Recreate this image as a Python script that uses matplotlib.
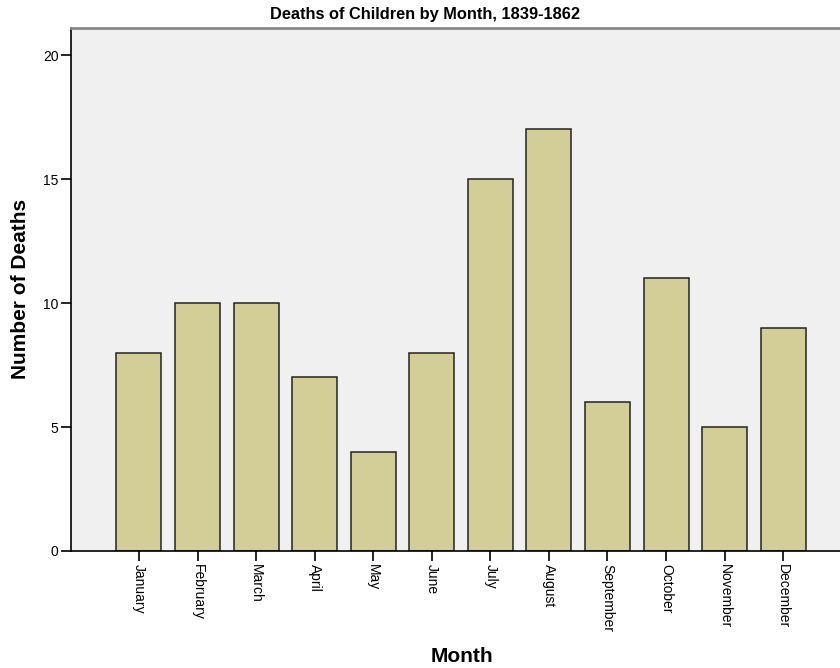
import matplotlib.pyplot as plt
import numpy as np

months = ["January", "February", "March", "April", "May", "June", "July",
          "August", "September", "October", "November", "December"]
deaths = [8, 10, 10, 7, 4, 8, 15, 17, 6, 11, 5, 9]

plt.rcParams['font.family'] = ['Liberation Sans', 'DejaVu Sans']

fig = plt.figure(figsize=(8.4, 6.68), dpi=100)
ax = fig.add_axes([71/840, 117/668, 1 - 71/840, (551-28)/668])
ax.set_facecolor("#f0f0f0")

x = np.arange(len(months))
ax.bar(x, deaths, width=0.77, color="#d3ce97", edgecolor="#222222", linewidth=1.1, zorder=2)

ax.set_xlim(-1.16, 11.97)
ax.set_ylim(0, 21.09)
ax.set_yticks([0, 5, 10, 15, 20])
ax.set_xticks(x)
ax.set_xticklabels(months, rotation=270, fontsize=10)
ax.tick_params(axis='y', labelsize=10, length=7, width=1.2, pad=2)
ax.tick_params(axis='x', length=7, width=1.2, pad=2)

ax.spines['right'].set_visible(False)
ax.spines['top'].set_color("#888888")
ax.spines['top'].set_linewidth(2)
ax.spines['left'].set_linewidth(1.2)
ax.spines['bottom'].set_linewidth(1.2)

fig.text(21/840, 1 - 289/668, "Number of Deaths", fontsize=15, fontweight='bold',
         rotation=90, ha='center', va='center')
fig.text(462/840, 1 - 657/668, "Month", fontsize=15, fontweight='bold', ha='center', va='center')
fig.text(425/840, 1 - 14/668, "Deaths of Children by Month, 1839-1862", fontsize=11.8,
         fontweight='bold', ha='center', va='center')

fig.savefig("out.png", dpi=100)
